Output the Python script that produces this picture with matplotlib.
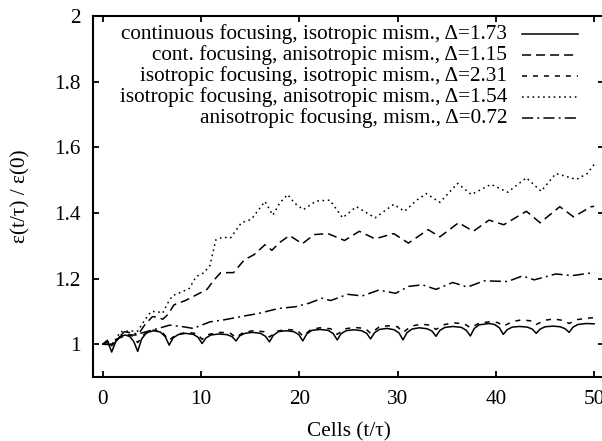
import matplotlib
matplotlib.use("Agg")
import matplotlib.pyplot as plt
from matplotlib.lines import Line2D

plt.rcParams['font.family'] = ['Liberation Serif', 'DejaVu Serif']
plt.rcParams['font.size'] = 15
plt.rcParams['lines.scale_dashes'] = False

labels = [
    "continuous focusing, isotropic mism., \u0394=1.73",
    "cont. focusing, anisotropic mism., \u0394=1.15",
    "isotropic focusing, isotropic mism., \u0394=2.31",
    "isotropic focusing, anisotropic mism., \u0394=1.54",
    "anisotropic focusing, mism., \u0394=0.72",
]

# continuous focusing, isotropic mismatch
x1 = [0, 0.45, 0.9, 1.3, 1.75, 2.3, 2.75, 3.15, 3.55,
      3.95, 4.45, 5.2, 5.85, 6.35, 6.75,
      7.15, 7.65, 8.4, 9.2, 9.7, 10.1,
      10.5, 11.0, 11.8, 12.65, 13.15, 13.55,
      13.95, 14.45, 15.25, 16.05, 16.55, 16.95,
      17.35, 17.85, 18.65, 19.45, 19.95, 20.35,
      20.75, 21.25, 22.1, 22.95, 23.45, 23.85,
      24.25, 24.75, 25.55, 26.35, 26.85, 27.25,
      27.65, 28.15, 28.9, 29.65, 30.15, 30.55,
      30.95, 31.45, 32.2, 33.0, 33.5, 33.9,
      34.3, 34.8, 35.65, 36.5, 37.0, 37.4,
      37.8, 38.3, 39.3, 39.85, 40.35, 40.75,
      41.15, 41.65, 42.4, 43.2, 43.7, 44.1,
      44.5, 45.0, 45.8, 46.55, 47.05, 47.45,
      47.85, 48.35, 49.2, 50.0]
y1 = [1.000, 1.012, 0.976, 1.007, 1.023, 1.028, 1.023, 1.008, 0.978,
      1.016, 1.035, 1.041, 1.037, 1.023, 0.997,
      1.019, 1.029, 1.033, 1.030, 1.021, 1.002,
      1.019, 1.028, 1.031, 1.029, 1.023, 1.010,
      1.026, 1.033, 1.036, 1.033, 1.024, 1.007,
      1.027, 1.038, 1.041, 1.038, 1.029, 1.010,
      1.031, 1.042, 1.045, 1.042, 1.032, 1.013,
      1.032, 1.041, 1.044, 1.041, 1.033, 1.016,
      1.035, 1.045, 1.048, 1.044, 1.034, 1.013,
      1.035, 1.046, 1.050, 1.047, 1.040, 1.024,
      1.042, 1.051, 1.054, 1.051, 1.042, 1.025,
      1.048, 1.059, 1.063, 1.060, 1.050, 1.030,
      1.044, 1.052, 1.054, 1.052, 1.046, 1.033,
      1.046, 1.053, 1.055, 1.053, 1.047, 1.036,
      1.052, 1.060, 1.063, 1.062]

# continuous focusing, anisotropic mismatch
x2 = [0, 0.9, 1.6, 2.5, 3.55, 4.3, 5.05, 5.6, 6.1, 6.6, 7.25, 8.4, 9.5,
      10.6, 11.3, 12.0, 13.3, 14.4, 15.4, 16.5, 17.2, 18.0, 19.0, 20.3,
      21.5, 22.9, 24.6, 26.1, 27.7, 29.6, 31.1, 33.1, 34.3, 36.2, 37.7,
      39.3, 40.8, 43.1, 44.5, 46.5, 47.9, 49.7, 50.0]
y2 = [1.000, 0.998, 1.018, 1.028, 1.028, 1.060, 1.084, 1.082, 1.076, 1.090,
      1.120, 1.133, 1.150, 1.167, 1.195, 1.218, 1.218, 1.257, 1.273, 1.303,
      1.286, 1.310, 1.331, 1.306, 1.334, 1.337, 1.316, 1.344, 1.321, 1.337,
      1.308, 1.349, 1.327, 1.370, 1.344, 1.378, 1.364, 1.405, 1.370, 1.419,
      1.388, 1.419, 1.420]

# isotropic focusing, isotropic mismatch
x3 = [0, 0.5, 0.9, 1.5, 2.3, 3.0, 3.55, 4.2, 5.1, 6.0, 6.75, 7.5, 8.6, 9.6,
      10.1, 10.8, 12.0, 13.0, 13.55, 14.3, 15.3, 16.4, 16.95, 17.8, 18.7,
      19.8, 20.35, 21.2, 22.1, 23.2, 23.85, 24.7, 25.6, 26.7, 27.25, 28.1,
      29.0, 30.0, 30.55, 31.4, 32.4, 33.3, 33.9, 34.8, 35.7, 36.8, 37.4,
      38.3, 39.3, 40.2, 40.75, 41.7, 42.6, 43.6, 44.1, 45.0, 45.9, 46.9,
      47.45, 48.3, 49.3, 50.0]
y3 = [1.000, 1.008, 0.995, 1.018, 1.032, 1.025, 1.005, 1.030, 1.043, 1.038,
      1.012, 1.030, 1.036, 1.032, 1.015, 1.030, 1.036, 1.033, 1.020, 1.036,
      1.041, 1.038, 1.022, 1.040, 1.045, 1.042, 1.025, 1.045, 1.050, 1.047,
      1.030, 1.047, 1.051, 1.048, 1.033, 1.052, 1.056, 1.053, 1.036, 1.055,
      1.061, 1.058, 1.045, 1.060, 1.065, 1.062, 1.050, 1.064, 1.068, 1.066,
      1.055, 1.069, 1.074, 1.071, 1.060, 1.073, 1.077, 1.072, 1.063, 1.075,
      1.079, 1.081]

# isotropic focusing, anisotropic mismatch
x4 = [0, 0.5, 1.0, 1.8, 2.6, 3.55, 4.3, 4.9, 5.5, 6.07, 6.7, 7.1, 8.1, 8.8,
      9.5, 10.3, 10.9, 11.5, 12.2, 13.0, 14.1, 15.1, 16.5, 17.3, 18.0, 18.8,
      19.5, 20.4, 21.7, 23.1, 24.4, 25.8, 27.7, 29.6, 30.7, 32.0, 32.9,
      34.3, 36.1, 37.5, 39.5, 41.2, 43.1, 44.6, 46.1, 48.2, 49.3, 50.0]
y4 = [1.000, 1.008, 1.000, 1.038, 1.040, 1.040, 1.075, 1.099, 1.100, 1.094,
      1.130, 1.148, 1.160, 1.170, 1.206, 1.218, 1.240, 1.318, 1.326, 1.324,
      1.370, 1.380, 1.435, 1.393, 1.430, 1.456, 1.430, 1.410, 1.436, 1.439,
      1.385, 1.419, 1.385, 1.426, 1.405, 1.440, 1.459, 1.432, 1.490, 1.456,
      1.487, 1.463, 1.507, 1.466, 1.520, 1.502, 1.520, 1.548]

# anisotropic focusing
x5 = [0, 0.9, 2.2, 3.55, 5.05, 6.8, 8.2, 9.2, 10.9, 12.3, 14.4, 15.9, 17.9,
      19.6, 21.0, 22.3, 23.2, 24.9, 26.4, 28.1, 29.8, 31.1, 32.5, 33.9,
      35.6, 37.1, 38.8, 41.2, 42.7, 43.9, 46.1, 47.8, 49.9, 50.0]
y5 = [1.000, 1.000, 1.038, 1.031, 1.043, 1.058, 1.053, 1.048, 1.068, 1.074,
      1.086, 1.094, 1.109, 1.114, 1.125, 1.140, 1.133, 1.152, 1.147, 1.165,
      1.155, 1.176, 1.181, 1.167, 1.188, 1.174, 1.193, 1.191, 1.208, 1.196,
      1.214, 1.209, 1.218, 1.218]

xticks = [0, 10, 20, 30, 40, 50]
yticks = [1.0, 1.2, 1.4, 1.6, 1.8, 2.0]
yticklabels = ["1", "1.2", "1.4", "1.6", "1.8", "2"]

series = [(x1, y1), (x2, y2), (x3, y3), (x4, y4), (x5, y5)]
dash_styles = [None, (0, (6.5, 3.6)), (0, (3.6, 4.3)), (0, (1.2, 2.6)),
               (0, (8.0, 3.0, 1.4, 3.0))]

W, H = 602, 441
fig = plt.figure(figsize=(W / 100, H / 100), dpi=100)
L, R, T, B = 93, 604, 16, 377
ax = fig.add_axes([L / W, 1 - B / H, (R - L) / W, (B - T) / H])

lw = 1.1
for (xs, ys), ls in zip(series, dash_styles):
    ax.plot(xs, ys, color='black', lw=lw, linestyle='-' if ls is None else ls)

ax.set_xlim(-1, 51)
ax.set_ylim(0.9, 2.0)
ax.set_xticks(xticks)
ax.set_yticks(yticks)
ax.set_yticklabels(yticklabels)
ax.tick_params(direction='in', length=4, width=1.3, top=True, right=True,
               labelsize=15.3)
ax.tick_params(axis='y', pad=9)
ax.tick_params(axis='x', pad=9)
for sp in ax.spines.values():
    sp.set_linewidth(1.5)

ax.set_xlabel("Cells (t/\u03c4)", fontsize=15.3, va='center')
ax.xaxis.set_label_coords(0.5, -(432 - B) / (B - T))
ax.set_ylabel("\u03b5(t/\u03c4) / \u03b5(0)", fontsize=15.3, va='center', ha='center')
ax.yaxis.set_label_coords(-(L - 21) / (R - L), 0.5)

# legend drawn as in gnuplot: right-aligned text, sample to the right
rows_y = [34, 55, 76, 97, 118]
tx, s0, s1 = 507, 522, 578
for lab, ls, ry in zip(labels, dash_styles, rows_y):
    fig.text(tx / W, 1 - ry / H, lab, ha='right', va='center', fontsize=15.3)
    fig.add_artist(Line2D([s0 / W, s1 / W], [1 - ry / H, 1 - ry / H],
                          transform=fig.transFigure, color='black', lw=lw,
                          linestyle='-' if ls is None else ls))

fig.savefig("out.png", dpi=100)
